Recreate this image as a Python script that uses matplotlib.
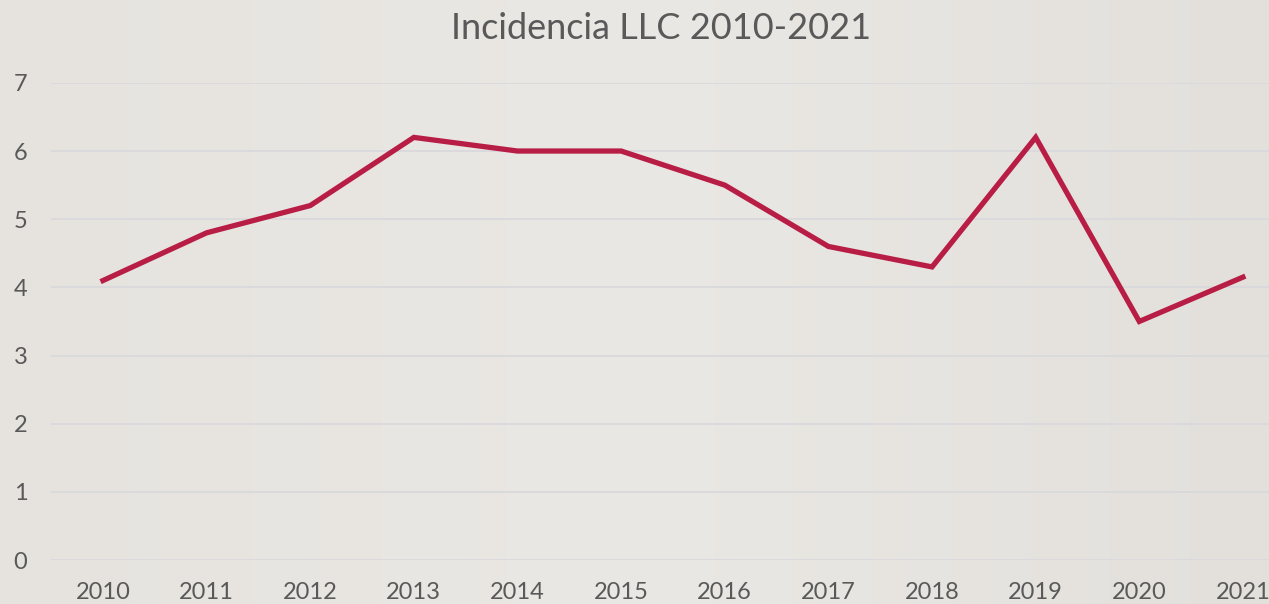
import matplotlib
matplotlib.use('Agg')
import matplotlib.pyplot as plt
import numpy as np
from matplotlib.colors import LinearSegmentedColormap

years = ['2010', '2011', '2012', '2013', '2014', '2015',
         '2016', '2017', '2018', '2019', '2020', '2021']
incidence = [4.1, 4.8, 5.2, 6.2, 6.0, 6.0, 5.5, 4.6, 4.3, 6.2, 3.5, 4.15]

plt.rcParams['font.family'] = ['Lato', 'DejaVu Sans']

fig = plt.figure(figsize=(12.69, 6.04), dpi=100)
fig.patch.set_facecolor('#E8E6E2')

# subtle background gradient
bg = fig.add_axes([0, 0, 1, 1], zorder=-10)
grad = np.linspace(0, 1, 256).reshape(1, -1)
grad = np.vstack([grad, grad])
cmap = LinearSegmentedColormap.from_list('bg', ['#E6E3DF', '#EAE8E4', '#E3E0DC'])
bg.imshow(grad, aspect='auto', cmap=cmap, extent=[0, 1, 0, 1])
bg.axis('off')

ax = fig.add_axes([0.0403, 0.0728, 0.98, 0.79])
ax.patch.set_alpha(0)

x = np.arange(len(years))
ax.plot(x, incidence, color='#B81D45', linewidth=3.8, solid_joinstyle='miter', zorder=3)

ax.set_xlim(-0.5, len(years) - 0.5)
ax.set_ylim(0, 7)
ax.set_yticks(range(0, 8))
ax.set_xticks(x)
ax.set_xticklabels(years)

ax.grid(axis='y', color='#D9D9DC', linewidth=1.3)
ax.set_axisbelow(True)
for s in ax.spines.values():
    s.set_visible(False)
ax.tick_params(axis='both', length=0, labelsize=17, labelcolor='#595959')
ax.tick_params(axis='y', pad=22)
ax.tick_params(axis='x', pad=16)
for lbl in ax.get_yticklabels():
    lbl.set_horizontalalignment('center')

fig.text(0.521, 0.953, 'Incidencia LLC 2010-2021', ha='center', va='center',
         fontsize=26, color='#595959')

plt.savefig('out.png', dpi=100, facecolor=fig.get_facecolor())
